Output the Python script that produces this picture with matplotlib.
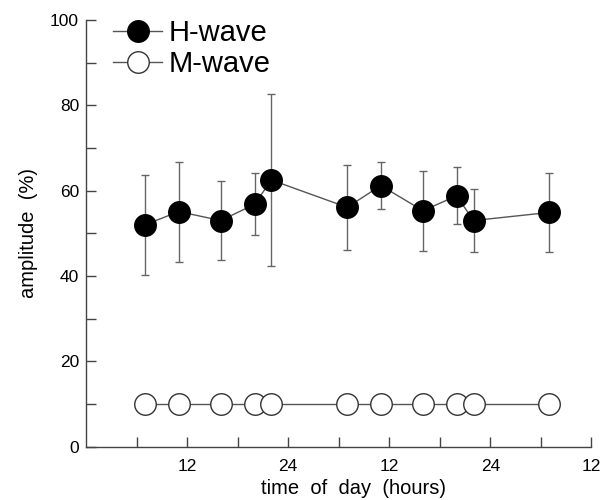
import matplotlib
matplotlib.use('Agg')
import matplotlib.pyplot as plt
from matplotlib.lines import Line2D

# sampling times (hours from start), two days plus one morning
t = [7, 11, 16, 20, 22, 31, 35, 40, 44, 46, 55]
h_amp = [52.0, 55.1, 53.0, 56.8, 62.5, 56.1, 61.2, 55.3, 58.8, 53.0, 54.9]
h_err = [11.7, 11.7, 9.2, 7.3, 20.2, 10.0, 5.5, 9.4, 6.7, 7.4, 9.3]
m_amp = [10, 10, 10, 10, 10, 10, 10, 10, 10, 10, 10]

xticks = [6, 12, 18, 24, 30, 36, 42, 48, 54, 60]
xlabels = ['', '12', '', '24', '', '12', '', '24', '', '12']
yticks = [0, 10, 20, 30, 40, 50, 60, 70, 80, 90, 100]
ylabels = ['0', '', '20', '', '40', '', '60', '', '80', '', '100']

plt.rcParams['font.family'] = ['Liberation Sans', 'DejaVu Sans']

fig = plt.figure(figsize=(6.06, 5.0), dpi=100)
ax = fig.add_axes([0.142, 0.1066, 0.834, 0.8534])

lc = '#555555'
ax.plot(t, m_amp, '-', color=lc, lw=1.0, zorder=2)
ax.plot(t, m_amp, 'o', ms=15.5, mfc='white', mec='#333333', mew=1.0, zorder=3)

ax.errorbar(t, h_amp, yerr=h_err, fmt='none', ecolor='#666666', elinewidth=1.0,
            capsize=3, capthick=1.0, zorder=2)
ax.plot(t, h_amp, '-', color=lc, lw=1.0, zorder=2)
ax.plot(t, h_amp, 'o', ms=15.5, mfc='black', mec='black', mew=1.0, zorder=4)

ax.set_xlim(0, 60)
ax.set_ylim(0, 100)
ax.set_xticks(xticks)
ax.set_xticklabels(xlabels)
ax.set_yticks(yticks)
ax.set_yticklabels(ylabels)
ax.tick_params(direction='in', length=7, width=1.0, color='#444444', labelsize=12.5)
ax.tick_params(axis='x', pad=9)
ax.tick_params(axis='y', pad=5)

for s in ['top', 'right']:
    ax.spines[s].set_visible(False)
for s in ['left', 'bottom']:
    ax.spines[s].set_color('#444444')
    ax.spines[s].set_linewidth(1.0)

ax.set_xlabel('time  of  day  (hours)', fontsize=14.5)
ax.xaxis.set_label_coords(0.53, -0.075)
ax.set_ylabel('amplitude  (%)', fontsize=14.5, labelpad=9)

hw = Line2D([], [], color=lc, lw=1.0, marker='o', ms=15.5, mfc='black', mec='black')
mw = Line2D([], [], color=lc, lw=1.0, marker='o', ms=15.5, mfc='white', mec='#333333')
ax.legend([hw, mw], ['H-wave', 'M-wave'], loc='upper left', bbox_to_anchor=(0.03, 1.03),
          frameon=False, fontsize=21, handlelength=1.7, handletextpad=0.2,
          labelspacing=0.12, borderaxespad=0)

plt.savefig('out.png', dpi=100)
